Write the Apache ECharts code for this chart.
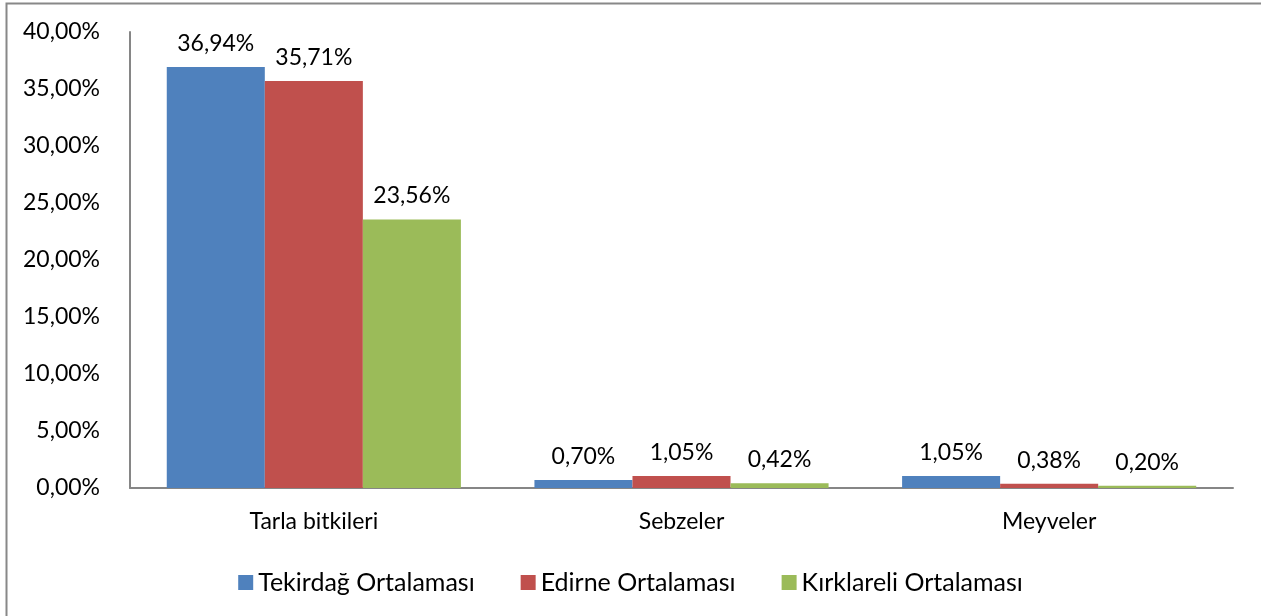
<!DOCTYPE html>
<html>
<head>
<meta charset="utf-8">
<script src="https://cdn.jsdelivr.net/npm/echarts@6/dist/echarts.min.js"></script>
<style>html,body{margin:0;padding:0;background:#fff;}#c{width:1261px;height:616px;}</style>
</head>
<body>
<div id="c"></div>
<script>
const categories = ['Tarla bitkileri', 'Sebzeler', 'Meyveler'];
const seriesNames = ['Tekirdağ Ortalaması', 'Edirne Ortalaması', 'Kırklareli Ortalaması'];
const tekirdag = [36.94, 0.70, 1.05];
const edirne = [35.71, 1.05, 0.38];
const kirklareli = [23.56, 0.42, 0.20];
const colors = ['#4F81BD', '#C0504D', '#9BBB59'];

const fmt = v => v.toFixed(2).replace('.', ',') + '%';
const FONT = 'Lato';
const FS = 23;
const chart = echarts.init(document.getElementById('c'));
const mk = (name, data, i) => ({
  name, type: 'bar', data, barGap: '0%', barCategoryGap: '20%',
  itemStyle: { color: colors[i] },
  label: { show: true, position: 'top', distance: 12, color: '#000', fontFamily: FONT, fontSize: FS,
    formatter: p => fmt(p.value) }
});
chart.setOption({
  animation: false,
  textStyle: { fontFamily: FONT },
  graphic: [{ type: 'rect', shape: { x: 6.5, y: 3.5, width: 1300, height: 700 }, style: { fill: 'none', stroke: '#888', lineWidth: 2 } }],
  grid: { left: 130, right: 28, top: 32, bottom: 128 },
  legend: {
    top: 565, left: 'center', itemWidth: 15, itemHeight: 15, itemGap: 46,
    icon: 'rect', textStyle: { fontFamily: FONT, fontSize: 25, color: '#000' },
    data: seriesNames
  },
  xAxis: {
    type: 'category', data: categories,
    axisLine: { lineStyle: { color: '#868686', width: 2 } },
    axisTick: { show: false },
    axisLabel: { color: '#000', fontFamily: FONT, fontSize: FS, margin: 22 }
  },
  yAxis: {
    type: 'value', min: 0, max: 40, interval: 5,
    axisLine: { show: true, lineStyle: { color: '#868686', width: 2 } },
    axisTick: { show: false },
    splitLine: { show: false },
    axisLabel: { color: '#000', fontFamily: FONT, fontSize: FS, margin: 30, formatter: v => fmt(v) }
  },
  series: [mk(seriesNames[0], tekirdag, 0), mk(seriesNames[1], edirne, 1), mk(seriesNames[2], kirklareli, 2)]
});
</script>
</body>
</html>
